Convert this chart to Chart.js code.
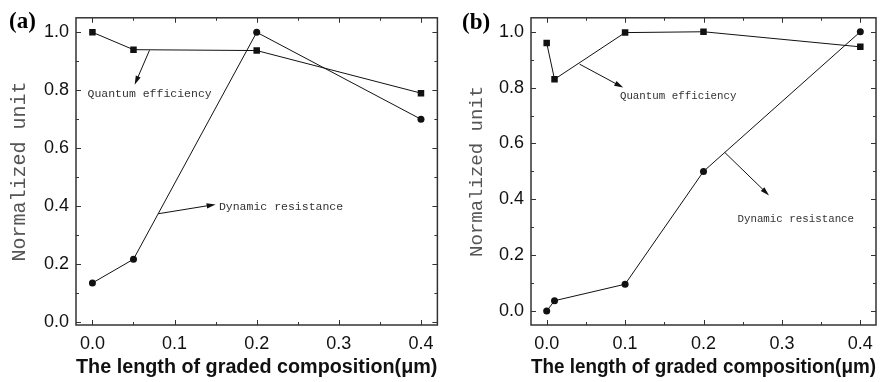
<!DOCTYPE html>
<html>
<head>
<meta charset="utf-8">
<script src="https://cdn.jsdelivr.net/npm/chart.js@4.4.0/dist/chart.umd.min.js"></script>
<style>
  html, body { margin: 0; padding: 0; background: #fff; }
  #wrap { position: relative; width: 884px; height: 382px; }
  canvas { position: absolute; top: 0; }
  #ca { left: 0; }
  #cb { left: 442px; }
</style>
</head>
<body>
<div id="wrap">
  <canvas id="ca" width="442" height="382"></canvas>
  <canvas id="cb" width="442" height="382"></canvas>
</div>
<script>
// panel (a): graded length (um) vs normalized quantum efficiency / dynamic resistance
const lenA = [0, 0.05, 0.2, 0.4];
const qeA = [1.0, 0.94, 0.937, 0.79];
const drA = [0.135, 0.217, 1.0, 0.70];

// panel (b)
const lenB = [0, 0.01, 0.1, 0.2, 0.4];
const qeB = [0.96, 0.83, 0.997, 1.0, 0.946];
const drB = [0, 0.037, 0.096, 0.5, 1.0];

const xTicks = [0, 0.1, 0.2, 0.3, 0.4];
const yTicks = [0, 0.2, 0.4, 0.6, 0.8, 1.0];
const xMinor = [0.05, 0.15, 0.25, 0.35];
const yMinor = [0.1, 0.3, 0.5, 0.7, 0.9];

const INK = '#111';

// box around the plot with inward ticks on all four sides
const framePlugin = {
  id: 'frame',
  beforeDatasetsDraw(chart) {
    const { ctx, chartArea: a, scales: { x, y } } = chart;
    ctx.save();
    ctx.strokeStyle = '#333';
    ctx.lineWidth = 1.5;
    ctx.strokeRect(a.left, a.top, a.right - a.left, a.bottom - a.top);
    ctx.lineWidth = 1;
    ctx.beginPath();
    const xt = (vals, len) => vals.forEach(v => {
      const px = Math.round(x.getPixelForValue(v)) + 0.5;
      ctx.moveTo(px, a.bottom); ctx.lineTo(px, a.bottom - len);
      ctx.moveTo(px, a.top); ctx.lineTo(px, a.top + len);
    });
    const yt = (vals, len) => vals.forEach(v => {
      const py = Math.round(y.getPixelForValue(v)) + 0.5;
      ctx.moveTo(a.left, py); ctx.lineTo(a.left + len, py);
      ctx.moveTo(a.right, py); ctx.lineTo(a.right - len, py);
    });
    xt(xTicks, 5); xt(xMinor, 3);
    yt(yTicks, 5); yt(yMinor, 3);
    ctx.stroke();
    ctx.restore();
  }
};

// curve labels, pointer arrows and panel letter
const notesPlugin = {
  id: 'notes',
  afterDraw(chart, args, opts) {
    const { ctx, scales: { x, y } } = chart;
    ctx.save();
    ctx.fillStyle = '#000';
    ctx.font = 'bold 23px "Liberation Serif"';
    ctx.textBaseline = 'middle';
    ctx.fillText(opts.letter, opts.letterAt[0], opts.letterAt[1]);

    ctx.font = opts.size + 'px "Liberation Mono"';
    ctx.fillStyle = '#333';
    opts.labels.forEach(l => {
      ctx.fillText(l.text, x.getPixelForValue(l.at[0]), y.getPixelForValue(l.at[1]));
    });

    ctx.strokeStyle = '#111';
    ctx.fillStyle = '#111';
    ctx.lineWidth = 1;
    opts.arrows.forEach(ar => {
      const x0 = x.getPixelForValue(ar.from[0]), y0 = y.getPixelForValue(ar.from[1]);
      const x1 = x.getPixelForValue(ar.to[0]), y1 = y.getPixelForValue(ar.to[1]);
      const ang = Math.atan2(y1 - y0, x1 - x0);
      ctx.beginPath();
      ctx.moveTo(x0, y0);
      ctx.lineTo(x1 - 6 * Math.cos(ang), y1 - 6 * Math.sin(ang));
      ctx.stroke();
      ctx.beginPath();
      ctx.moveTo(x1, y1);
      ctx.lineTo(x1 - 9 * Math.cos(ang) + 2.6 * Math.sin(ang), y1 - 9 * Math.sin(ang) - 2.6 * Math.cos(ang));
      ctx.lineTo(x1 - 9 * Math.cos(ang) - 2.6 * Math.sin(ang), y1 - 9 * Math.sin(ang) + 2.6 * Math.cos(ang));
      ctx.closePath();
      ctx.fill();
    });
    ctx.restore();
  }
};

function pairs(xs, ys) {
  return xs.map((v, i) => ({ x: v, y: ys[i] }));
}

function makeChart(id, lens, qe, dr, cfg) {
  return new Chart(document.getElementById(id), {
    type: 'line',
    data: {
      datasets: [
        {
          label: 'Quantum efficiency',
          data: pairs(lens, qe),
          borderColor: INK, backgroundColor: INK,
          borderWidth: 1, pointStyle: 'rect', pointRadius: 4.6, pointBorderWidth: 0
        },
        {
          label: 'Dynamic resistance',
          data: pairs(lens, dr),
          borderColor: INK, backgroundColor: INK,
          borderWidth: 1, pointStyle: 'circle', pointRadius: 3.5, pointBorderWidth: 0
        }
      ]
    },
    options: {
      responsive: false,
      animation: false,
      devicePixelRatio: 1,
      layout: { padding: cfg.padding },
      plugins: {
        legend: { display: false },
        tooltip: { enabled: false },
        notes: cfg.notes
      },
      scales: {
        x: {
          type: 'linear', min: -0.02, max: 0.42,
          afterBuildTicks: s => { s.ticks = xTicks.map(v => ({ value: v })); },
          afterFit: s => { s.height = cfg.xHeight; },
          grid: { display: false, drawTicks: false },
          border: { display: false },
          ticks: {
            callback: v => v.toFixed(1), padding: 8, maxRotation: 0, autoSkip: false,
            color: INK, font: { family: 'Liberation Sans', size: 18 }
          },
          title: {
            display: true, text: 'The length of graded composition(μm)',
            color: INK, font: { family: 'Liberation Sans', size: cfg.xTitleSize, weight: 'bold' },
            padding: { top: 0, bottom: 3 }
          }
        },
        y: {
          type: 'linear', min: cfg.yMin, max: 1.05,
          afterBuildTicks: s => { s.ticks = yTicks.map(v => ({ value: v })); },
          afterFit: s => { s.width = cfg.yWidth; },
          grid: { display: false, drawTicks: false },
          border: { display: false },
          ticks: {
            callback: v => v.toFixed(1), padding: 7, autoSkip: false,
            color: INK, font: { family: 'Liberation Sans', size: 18 }
          },
          title: {
            display: true, text: 'Normalized unit',
            color: '#555', font: { family: 'Liberation Mono', size: cfg.titleSize },
            padding: { top: cfg.titlePad, bottom: 0 }
          }
        }
      }
    },
    plugins: [framePlugin, notesPlugin]
  });
}

makeChart('ca', lenA, qeA, drA, {
  padding: { top: 13, right: 1, left: 0, bottom: 0 },
  xHeight: 57, yWidth: 76, yMin: -0.01, titleSize: 20, titlePad: 8, xTitleSize: 20,
  notes: {
    letter: '(a)', letterAt: [9, 22], size: 11.5,
    labels: [
      { text: 'Quantum efficiency', at: [-0.006, 0.786] },
      { text: 'Dynamic resistance', at: [0.154, 0.399] }
    ],
    arrows: [
      { from: [0.0695, 0.938], to: [0.0514, 0.819] },
      { from: [0.0804, 0.374], to: [0.15, 0.406] }
    ]
  }
});

makeChart('cb', lenB, qeB, drB, {
  padding: { top: 8, right: 8, left: 0, bottom: 0 },
  xHeight: 57, yWidth: 89, yMin: -0.05, titleSize: 19, titlePad: 24, xTitleSize: 19.5,
  notes: {
    letter: '(b)', letterAt: [20, 23], size: 10.8,
    labels: [
      { text: 'Quantum efficiency', at: [0.0934, 0.771] },
      { text: 'Dynamic resistance', at: [0.2433, 0.330] }
    ],
    arrows: [
      { from: [0.042, 0.884], to: [0.0976, 0.80] },
      { from: [0.2271, 0.568], to: [0.2836, 0.414] }
    ]
  }
});
</script>
</body>
</html>
